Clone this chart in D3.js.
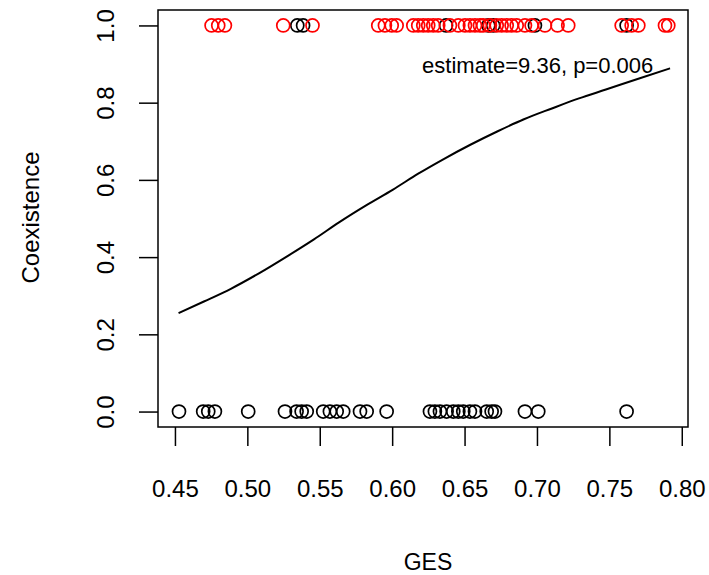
<!DOCTYPE html>
<meta charset="utf-8">
<script src="https://d3js.org/d3.v7.min.js"></script>
<style>
  body { margin: 0; background: #fff; }
  text { font-family: "Liberation Sans", Arial, sans-serif; }
</style>
<div id="my_dataviz"></div>
<script>
    // GES values of the points at Coexistence = 0 (black)
    const gesZero = [0.4528, 0.4695, 0.4730, 0.4776, 0.5006, 0.5260, 0.5340, 0.5375, 0.5410,
        0.5524, 0.5570, 0.5617, 0.5662, 0.5778, 0.5824, 0.5962, 0.6261, 0.6295, 0.6330, 0.6376,
        0.6422, 0.6457, 0.6491, 0.6537, 0.6572, 0.6653, 0.6687, 0.6710, 0.6917, 0.7009, 0.7619];
    // GES values at Coexistence = 1, black points
    const gesOneBlack = [0.5345, 0.5385, 0.6372, 0.6664, 0.6698, 0.6986, 0.7619];
    // GES values at Coexistence = 1, red points
    const gesOneRed = [0.4753, 0.4799, 0.4845, 0.5248, 0.5450, 0.5904, 0.5950, 0.5997, 0.6031,
        0.6146, 0.6180, 0.6215, 0.6249, 0.6284, 0.6318, 0.6399, 0.6457, 0.6503, 0.6537, 0.6572,
        0.6606, 0.6629, 0.6675, 0.6722, 0.6756, 0.6791, 0.6825, 0.6860, 0.6917, 0.6963, 0.7055,
        0.7142, 0.7216, 0.7585, 0.7654, 0.7700, 0.7884, 0.7907];
    // fitted curve
    const curveX = [0.4525, 0.4700, 0.4886, 0.5080, 0.5283, 0.5460, 0.5633, 0.5820, 0.6006, 0.6180,
        0.6356, 0.6540, 0.6729, 0.6910, 0.7103, 0.7290, 0.7476, 0.7700, 0.7919];
    const curveY = [0.255, 0.285, 0.318, 0.358, 0.404, 0.446, 0.490, 0.534, 0.575, 0.616,
        0.654, 0.691, 0.726, 0.757, 0.785, 0.811, 0.834, 0.862, 0.889];
    const xTicks = [0.45, 0.50, 0.55, 0.60, 0.65, 0.70, 0.75, 0.80];
    const yTicks = [0.0, 0.2, 0.4, 0.6, 0.8, 1.0];
    const xLimits = [0.4383, 0.8043];
    const yLimits = [-0.04, 1.04];
    const annotation = "estimate=9.36, p=0.006";

    const margin = { top: 10, right: 21, bottom: 148, left: 158 },
        width = 709 - margin.left - margin.right,
        height = 575 - margin.top - margin.bottom;

    const svg = d3.select("#my_dataviz")
        .append("svg")
        .attr("width", 709)
        .attr("height", 575)
        .append("g")
        .attr("transform", `translate(${margin.left}, ${margin.top})`);

    const x = d3.scaleLinear().domain(xLimits).range([0, width]);
    const y = d3.scaleLinear().domain(yLimits).range([height, 0]);

    // X axis
    const xAxis = svg.append("g")
        .attr("transform", `translate(0, ${height})`)
        .call(d3.axisBottom(x).tickValues(xTicks).tickFormat(d3.format(".2f"))
            .tickSize(19).tickSizeOuter(0).tickPadding(34));
    xAxis.select(".domain").remove();
    xAxis.selectAll("line").attr("stroke", "#000").attr("stroke-width", 1.5);
    xAxis.selectAll("text").attr("font-size", "24px").attr("fill", "#000")
        .style("font-family", "'Liberation Sans', Arial, sans-serif");

    // Y axis with rotated labels
    const yAxis = svg.append("g")
        .call(d3.axisLeft(y).tickValues(yTicks).tickFormat(d3.format(".1f"))
            .tickSize(19).tickSizeOuter(0));
    yAxis.select(".domain").remove();
    yAxis.selectAll("line").attr("stroke", "#000").attr("stroke-width", 1.5);
    yAxis.selectAll("text")
        .attr("x", 0).attr("dy", null)
        .attr("y", -53)
        .attr("transform", "rotate(-90)")
        .attr("text-anchor", "middle")
        .attr("dominant-baseline", "central")
        .attr("font-size", "24px").attr("fill", "#000")
        .style("font-family", "'Liberation Sans', Arial, sans-serif");

    // box
    svg.append("rect")
        .attr("x", 0).attr("y", 0)
        .attr("width", width).attr("height", height)
        .attr("fill", "none").attr("stroke", "#000").attr("stroke-width", 1.5);

    // axis titles
    svg.append("text")
        .attr("x", width / 2 + 5)
        .attr("y", height + 135)
        .attr("text-anchor", "middle")
        .attr("dominant-baseline", "central")
        .attr("font-size", "23px")
        .text("GES");
    svg.append("text")
        .attr("transform", `translate(${-128}, ${height / 2 - 1}) rotate(-90)`)
        .attr("text-anchor", "middle")
        .attr("dominant-baseline", "central")
        .attr("font-size", "24px")
        .text("Coexistence");

    // points
    const pts = [];
    gesZero.forEach(v => pts.push({ g: v, c: 0, col: "#000" }));
    gesOneBlack.forEach(v => pts.push({ g: v, c: 1, col: "#000" }));
    gesOneRed.forEach(v => pts.push({ g: v, c: 1, col: "#ff0000" }));

    svg.selectAll("circle.pt")
        .data(pts)
        .join("circle")
        .attr("class", "pt")
        .attr("cx", d => x(d.g))
        .attr("cy", d => y(d.c))
        .attr("r", 6.5)
        .attr("fill", "none")
        .attr("stroke", d => d.col)
        .attr("stroke-width", 1.7);

    // fitted curve
    const line = d3.line()
        .x(d => x(d[0]))
        .y(d => y(d[1]))
        .curve(d3.curveMonotoneX);
    svg.append("path")
        .datum(d3.zip(curveX, curveY))
        .attr("d", line)
        .attr("fill", "none")
        .attr("stroke", "#000")
        .attr("stroke-width", 2);

    // annotation
    svg.append("text")
        .attr("x", x(0.7005))
        .attr("y", 63)
        .attr("text-anchor", "middle")
        .attr("font-size", "22px")
        .text(annotation);
</script>
